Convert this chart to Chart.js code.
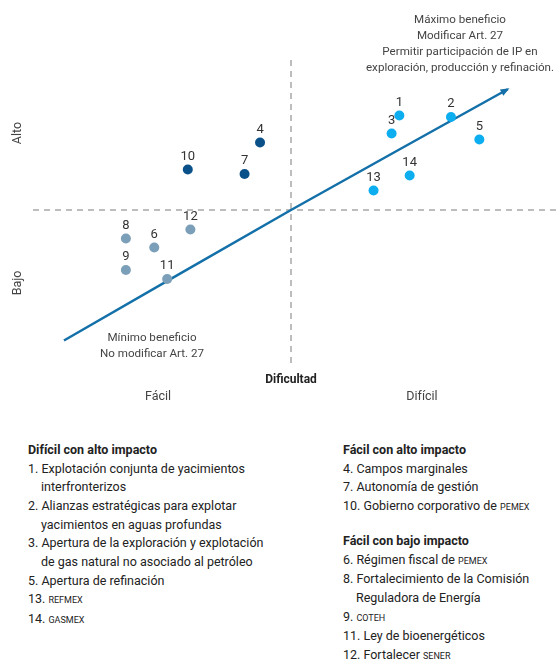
<!DOCTYPE html>
<html>
<head>
<meta charset="utf-8">
<script src="https://cdn.jsdelivr.net/npm/chart.js@4/dist/chart.umd.min.js"></script>
<style>
  html, body { margin: 0; padding: 0; background: #fff; }
  body { width: 556px; height: 661px; position: relative; overflow: hidden; font-family: Roboto, "Noto Sans", sans-serif; color: #222; }
  #wrap { position: absolute; left: 0; top: 0; width: 556px; height: 420px; }
  .col { position: absolute; top: 441px; font-size: 12.5px; line-height: 18.65px; }
  .col .h { font-weight: bold; }
  .col .i { padding-left: 13px; }
  .sc { font-size: 9px; }
  .gap { height: 15.5px; }
</style>
</head>
<body>
<div id="wrap"><canvas id="c" width="556" height="420"></canvas></div>

<div class="col" style="left:28px;width:290px">
  <div class="h">Difícil con alto impacto</div>
  <div>1. Explotación conjunta de yacimientos</div>
  <div class="i">interfronterizos</div>
  <div>2. Alianzas estratégicas para explotar</div>
  <div class="i">yacimientos en aguas profundas</div>
  <div>3. Apertura de la exploración y explotación</div>
  <div class="i">de gas natural no asociado al petróleo</div>
  <div>5. Apertura de refinación</div>
  <div>13. <span class="sc">REFMEX</span></div>
  <div>14. <span class="sc">GASMEX</span></div>
</div>

<div class="col" style="left:343px;width:213px">
  <div class="h">Fácil con alto impacto</div>
  <div>4. Campos marginales</div>
  <div>7. Autonomía de gestión</div>
  <div>10. Gobierno corporativo de <span class="sc">PEMEX</span></div>
  <div class="gap"></div>
  <div class="h">Fácil con bajo impacto</div>
  <div>6. Régimen fiscal de <span class="sc">PEMEX</span></div>
  <div>8. Fortalecimiento de la Comisión</div>
  <div class="i">Reguladora de Energía</div>
  <div>9. <span class="sc">COTEH</span></div>
  <div>11. Ley de bioenergéticos</div>
  <div>12. Fortalecer <span class="sc">SENER</span></div>
</div>

<script>
// Dificultad (x) vs impacto (y), centred at 0 on both axes
const hardHighIds = ['1', '2', '3', '5', '13', '14'];
const hardHighX   = [4.2, 6.2, 3.9, 7.3, 3.2, 4.6];
const hardHighY   = [6.3, 6.2, 5.1, 4.7, 1.3, 2.3];

const easyHighIds = ['4', '10', '7'];
const easyHighX   = [-1.2, -4.0, -1.8];
const easyHighY   = [4.5, 2.7, 2.4];

const easyLowIds  = ['8', '6', '12', '9', '11'];
const easyLowX    = [-6.4, -5.3, -3.9, -6.4, -4.8];
const easyLowY    = [-1.9, -2.5, -1.3, -4.0, -4.6];

const trendX = [-8.8, 0, 8.4];
const trendY = [-8.7, 0, 8.05];

const xLabels = ['Fácil', 'Difícil'];
const yLabels = ['Alto', 'Bajo'];
const xTitle = 'Dificultad';
const topNote = ['Máximo beneficio', 'Modificar Art. 27', 'Permitir participación de IP en', 'exploración, producción y refinación.'];
const bottomNote = ['Mínimo beneficio', 'No modificar Art. 27'];

function pts(xs, ys, ids) { return xs.map((x, i) => ({ x: x, y: ys[i], id: ids ? ids[i] : null })); }

const FONT = 'Roboto, "Noto Sans", sans-serif';

const decor = {
  id: 'decor',
  beforeDatasetsDraw(chart) {
    const { ctx, scales: { x, y } } = chart;
    const x0 = x.getPixelForValue(0), y0 = y.getPixelForValue(0);
    ctx.save();
    ctx.strokeStyle = '#a8a8a8';
    ctx.lineWidth = 1.5;
    ctx.setLineDash([6, 5]);
    ctx.beginPath();
    ctx.moveTo(33, y0); ctx.lineTo(556, y0);
    ctx.moveTo(x0, 60); ctx.lineTo(x0, 366);
    ctx.stroke();
    ctx.restore();
  },
  afterDatasetsDraw(chart) {
    const { ctx, scales: { x, y } } = chart;
    // arrow head at end of trend line
    const meta = chart.getDatasetMeta(3);
    const n = meta.data.length;
    const p1 = meta.data[n - 2], p2 = meta.data[n - 1];
    const ang = Math.atan2(p2.y - p1.y, p2.x - p1.x);
    ctx.save();
    ctx.fillStyle = '#1470a8';
    ctx.translate(p2.x, p2.y);
    ctx.rotate(ang);
    ctx.beginPath();
    ctx.moveTo(2, 0);
    ctx.lineTo(-7, -3.5);
    ctx.lineTo(-7, 3.5);
    ctx.closePath();
    ctx.fill();
    ctx.restore();

    // point labels
    ctx.save();
    ctx.fillStyle = '#333';
    ctx.font = '13px ' + FONT;
    ctx.textAlign = 'center';
    ctx.textBaseline = 'middle';
    for (let d = 0; d < 3; d++) {
      const m = chart.getDatasetMeta(d);
      m.data.forEach((el, i) => {
        ctx.fillText(chart.data.datasets[d].data[i].id, el.x, el.y - 13);
      });
    }
    // notes
    ctx.fillStyle = '#444';
    ctx.font = '11.6px ' + FONT;
    topNote.forEach((t, i) => ctx.fillText(t, 460, 20 + i * 16));
    bottomNote.forEach((t, i) => ctx.fillText(t, 152, 338 + i * 16.5));
    // axis words
    ctx.font = 'bold 12px ' + FONT;
    ctx.fillStyle = '#222';
    ctx.fillText(xTitle, x.getPixelForValue(0), 380);
    ctx.font = '12.5px ' + FONT;
    ctx.fillStyle = '#444';
    ctx.fillText(xLabels[0], 158, 397);
    ctx.fillText(xLabels[1], 422, 397);
    ctx.save();
    ctx.translate(18, 133); ctx.rotate(-Math.PI / 2); ctx.fillText(yLabels[0], 0, 0); ctx.restore();
    ctx.save();
    ctx.translate(18, 283); ctx.rotate(-Math.PI / 2); ctx.fillText(yLabels[1], 0, 0); ctx.restore();
    ctx.restore();
  }
};

new Chart(document.getElementById('c'), {
  type: 'scatter',
  data: {
    datasets: [
      { data: pts(hardHighX, hardHighY, hardHighIds), backgroundColor: '#0caeef', borderWidth: 0, pointRadius: 5 },
      { data: pts(easyHighX, easyHighY, easyHighIds), backgroundColor: '#0a5089', borderWidth: 0, pointRadius: 5 },
      { data: pts(easyLowX, easyLowY, easyLowIds), backgroundColor: '#7b9fb8', borderWidth: 0, pointRadius: 5 },
      { type: 'line', data: pts(trendX, trendY), borderColor: '#1470a8', borderWidth: 2.5, pointRadius: 0, fill: false, tension: 0.2, order: 10 }
    ]
  },
  options: {
    responsive: false,
    animation: false,
    devicePixelRatio: 1,
    layout: { padding: { left: 33, right: 7, top: 60, bottom: 60 } },
    plugins: { legend: { display: false }, tooltip: { enabled: false } },
    scales: {
      x: { type: 'linear', min: -10, max: 10, display: false },
      y: { type: 'linear', min: -10, max: 10, display: false }
    }
  },
  plugins: [decor]
});
</script>
</body>
</html>
